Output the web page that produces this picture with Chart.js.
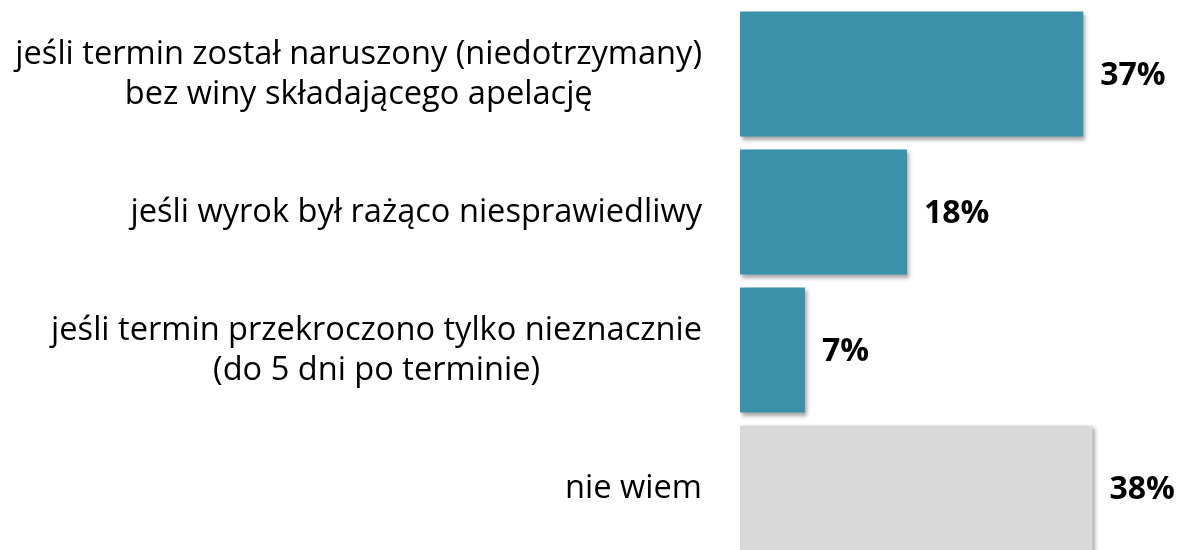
<!DOCTYPE html>
<html>
<head>
<meta charset="utf-8">
<script src="https://cdn.jsdelivr.net/npm/chart.js@4/dist/chart.umd.min.js"></script>
<style>
  html, body { margin: 0; padding: 0; background: #fff; overflow: hidden; }
  #wrap { width: 1177px; height: 550px; overflow: hidden; }
</style>
</head>
<body>
<div id="wrap"><canvas id="chart" width="1177" height="560"></canvas></div>
<script>
// answers and shares (%)
const categories = [
    ['jeśli termin został naruszony (niedotrzymany)', 'bez winy składającego apelację'],
    ['jeśli wyrok był rażąco niesprawiedliwy'],
    ['jeśli termin przekroczono tylko nieznacznie', '(do 5 dni po terminie)'],
    ['nie wiem']
];
const shares = [37, 18, 7, 38];
const barColors = ['#3A91A9', '#3A91A9', '#3A91A9', '#D9D9D9'];

const labelFont = '32.6px "Open Sans"';
const valueFont = 'bold 32px "Open Sans"';

// soft shadow under the bars
const barShadow = {
    id: 'barShadow',
    beforeDatasetsDraw(chart) {
        const ctx = chart.ctx;
        ctx.save();
        ctx.shadowColor = 'rgba(0,0,0,0.35)';
        ctx.shadowBlur = 4;
        ctx.shadowOffsetX = 2;
        ctx.shadowOffsetY = 3;
    },
    afterDatasetsDraw(chart) {
        chart.ctx.restore();
    }
};

// category labels: block right aligned, lines centred inside the block
const categoryLabels = {
    id: 'categoryLabels',
    afterDraw(chart) {
        const ctx = chart.ctx;
        const yScale = chart.scales.y;
        const right = chart.chartArea.left - 38;
        const lineHeight = 40;
        ctx.save();
        ctx.font = labelFont;
        ctx.fillStyle = '#000';
        ctx.textAlign = 'center';
        ctx.textBaseline = 'middle';
        categories.forEach((lines, i) => {
            const y = yScale.getPixelForValue(i);
            let maxW = 0;
            lines.forEach(l => { maxW = Math.max(maxW, ctx.measureText(l).width); });
            const cx = right - maxW / 2;
            const top = y - (lines.length - 1) * lineHeight / 2;
            lines.forEach((l, k) => ctx.fillText(l, cx, top + k * lineHeight + 1));
        });
        ctx.restore();
    }
};

// percentage next to each bar
const valueLabels = {
    id: 'valueLabels',
    afterDatasetsDraw(chart) {
        const ctx = chart.ctx;
        const meta = chart.getDatasetMeta(0);
        ctx.save();
        ctx.font = valueFont;
        ctx.fillStyle = '#000';
        ctx.textAlign = 'left';
        ctx.textBaseline = 'middle';
        meta.data.forEach((bar, i) => {
            ctx.fillText(shares[i] + '%', bar.x + 17, bar.y + 2);
        });
        ctx.restore();
    }
};

new Chart(document.getElementById('chart'), {
    type: 'bar',
    data: {
        labels: categories,
        datasets: [{
            data: shares,
            backgroundColor: barColors,
            borderWidth: 0,
            barPercentage: 0.906,
            categoryPercentage: 1
        }]
    },
    options: {
        indexAxis: 'y',
        responsive: false,
        animation: false,
        layout: { padding: { left: 740, right: 1, top: 5, bottom: 3 } },
        scales: {
            x: { display: false, min: 0, max: 47 },
            y: { display: false }
        },
        plugins: {
            legend: { display: false },
            tooltip: { enabled: false }
        }
    },
    plugins: [barShadow, categoryLabels, valueLabels]
});
</script>
</body>
</html>
